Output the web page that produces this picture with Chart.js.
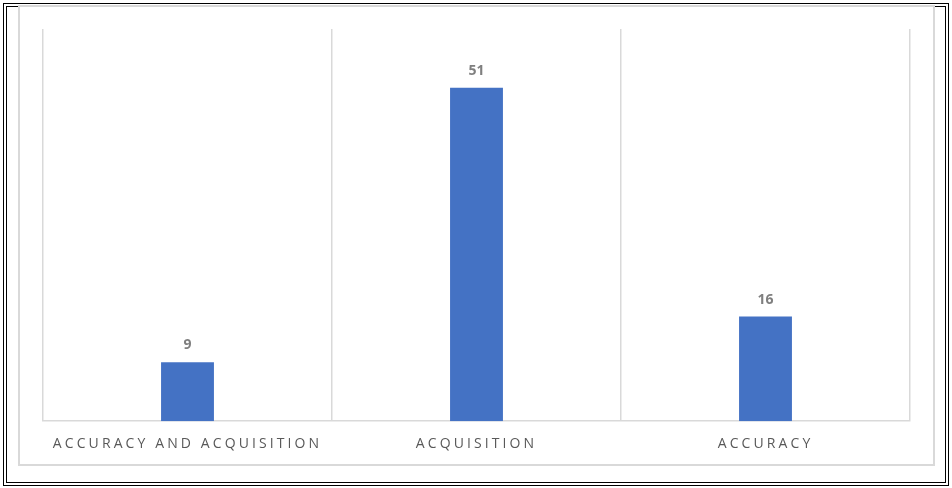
<!DOCTYPE html>
<html>
<head>
<meta charset="utf-8">
<script src="https://cdn.jsdelivr.net/npm/chart.js@4"></script>
<style>
  html, body { margin: 0; padding: 0; background: #fff; }
  #marco { position: absolute; left: 3px; top: 3px; width: 938px; height: 475px; border: 4px double #000; }
  #caja { position: absolute; left: 18px; top: 5px; width: 913px; height: 457px; border: 2px solid #d9d9d9; }
  #grafico { position: absolute; left: 0; top: 0; }
</style>
</head>
<body>
<div id="marco"></div>
<div id="caja"></div>
<canvas id="grafico" width="952" height="488"></canvas>
<script>
const categorias = ['ACCURACY AND ACQUISITION', 'ACQUISITION', 'ACCURACY'];
const valores = [9, 51, 16];
const ejeMax = 60;

const grafico = document.getElementById('grafico');

const etiquetas = {
    id: 'etiquetas',
    beforeUpdate: (chart) => { chart.ctx.letterSpacing = '3.1px'; },
    beforeDraw: (chart) => { chart.ctx.letterSpacing = '3.1px'; },
    afterDatasetsDraw: (chart) => {
        const ctx = chart.ctx;
        ctx.save();
        ctx.letterSpacing = '0px';
        ctx.font = 'bold 14px "Open Sans"';
        ctx.fillStyle = '#7f7f7f';
        ctx.textAlign = 'center';
        ctx.textBaseline = 'middle';
        chart.getDatasetMeta(0).data.forEach((bar, i) => {
            ctx.fillText(valores[i], bar.x, bar.y - 17);
        });
        ctx.restore();
    }
};

new Chart(grafico, {
    type: 'bar',
    data: {
        labels: categorias,
        datasets: [{
            data: valores,
            backgroundColor: '#4472c4',
            categoryPercentage: 1,
            barPercentage: 0.183
        }]
    },
    options: {
        responsive: false,
        animation: false,
        layout: { padding: { left: 43, right: 42, top: 29, bottom: 22 } },
        plugins: { legend: { display: false }, tooltip: { enabled: false } },
        scales: {
            x: {
                grid: { color: '#d9d9d9', lineWidth: 1.5, drawTicks: false },
                border: { color: '#d9d9d9', width: 1.5 },
                ticks: {
                    color: '#595959',
                    font: { family: '"Open Sans"', size: 14 },
                    padding: 14,
                    maxRotation: 0,
                    minRotation: 0
                }
            },
            y: { display: false, min: 0, max: ejeMax }
        }
    },
    plugins: [etiquetas]
});
</script>
</body>
</html>
